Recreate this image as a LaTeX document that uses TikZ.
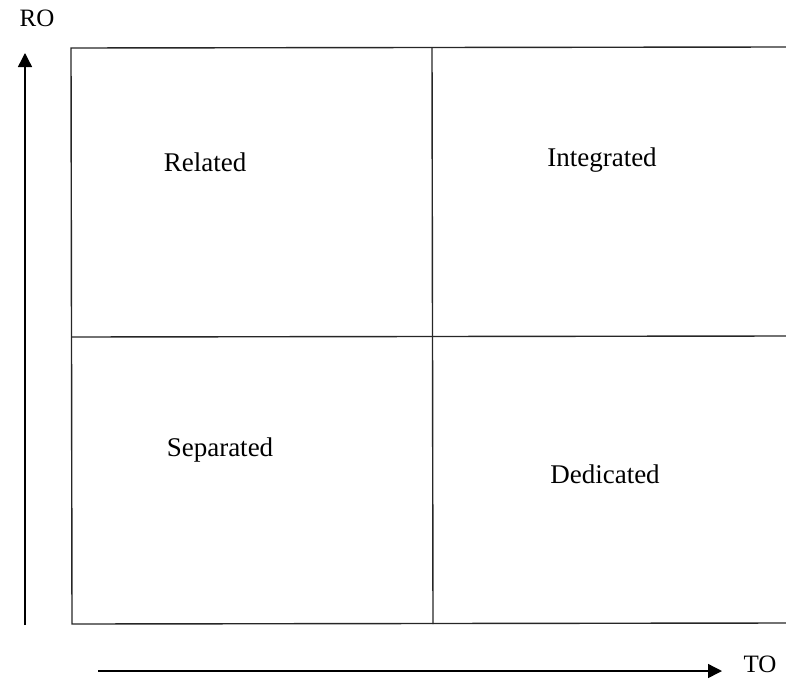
\documentclass[tikz,border=0pt]{standalone}
\usepackage{fontspec}
\setmainfont{Liberation Serif}
\usetikzlibrary{arrows.meta}
\begin{document}
\begin{tikzpicture}[x=1pt,y=-1pt,
  grid/.style={line width=1.4pt, black!85},
  axis/.style={line width=1.4pt, -{Triangle[length=14pt,width=14pt]}},
  cell/.style={font=\fontsize{27}{30}\selectfont, inner sep=0pt},
  axislabel/.style={font=\fontsize{25}{28}\selectfont, inner sep=0pt}]
  \useasboundingbox (0,0) rectangle (786,680);
  % quadrant grid (open on the right side)
  \coordinate (tl) at (71,48);
  \coordinate (tr) at (786,47);
  \coordinate (ml) at (71,337);
  \coordinate (mr) at (786,336);
  \coordinate (bl) at (72,624);
  \coordinate (br) at (786,623);
  \coordinate (mt) at (432,48);
  \coordinate (mb) at (433,624);
  \draw[grid] (tr) -- (tl) -- (bl) -- (br);
  \draw[grid] (ml) -- (mr);
  \draw[grid] (mt) -- (mb);
  % quadrant labels
  \node[cell] (rel) at (205,162) {Related};
  \node[cell] (int) at (602,160) {Integrated};
  \node[cell] (sep) at (220,450) {Separated};
  \node[cell] (ded) at (605,474) {Dedicated};
  % axes
  \coordinate (yb) at (25,625);
  \coordinate (yt) at (25,53);
  \coordinate (xl) at (98,671);
  \coordinate (xr) at (722,671);
  \draw[axis] (yb) -- (yt);
  \draw[axis] (xl) -- (xr);
  \node[axislabel] (ro) at (37,18) {RO};
  \node[axislabel] (to) at (760,664) {TO};
\end{tikzpicture}
\end{document}
